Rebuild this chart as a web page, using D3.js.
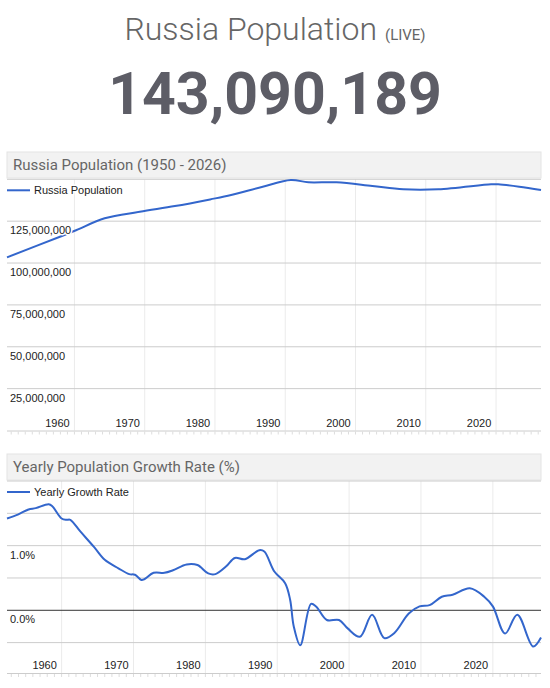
<!DOCTYPE html>
<html><head><meta charset="utf-8">
<script src="https://cdn.jsdelivr.net/npm/d3@7"></script>
<style>body{margin:0;background:#fff}svg{display:block}</style>
</head><body><div id="chart"></div>
<script>
// data
const popYears = [1950.4, 1958.3, 1960.3, 1964.3, 1969.3, 1974.3, 1979.3, 1982.3, 1986.8, 1990.8, 1993.3, 1997.3, 2002.4, 2006.8, 2011.8, 2019.3, 2020.3, 2023.3, 2026.4]
const popValues = [103.4, 116.3, 119.7, 126.7, 130.6, 134, 138, 140.6, 145.6, 149.6, 148.2, 148.2, 146, 144, 144, 147, 147, 145.6, 143.6].map(v => v * 1e6)
const popTicks = [25e6, 50e6, 75e6, 100e6, 125e6, 150e6]
const popLabelTicks = [25e6, 50e6, 75e6, 100e6, 125e6]

const rateYears = [1952.4, 1953.9, 1955.4, 1956.4, 1958.2, 1958.7, 1960, 1960.7, 1961.2, 1962.6, 1964.5, 1966, 1967.9, 1969.4, 1970.2, 1971.1, 1971.5, 1972.8, 1974.3, 1975.5, 1977.4, 1978.9, 1980.4, 1981.4, 1982.9, 1984.1, 1985.5, 1987.5, 1988.2, 1989.6, 1991.1, 1991.8, 1992.3, 1993.2, 1994.7, 1995.4, 1996.9, 1998.6, 1999.8, 2001.5, 2003.2, 2004.9, 2006.3, 2008.3, 2009.8, 2011.2, 2012.9, 2014.4, 2016.8, 2018.8, 2020, 2021.7, 2023.4, 2025.6, 2026.7]
const rateValues = [1.42, 1.48, 1.56, 1.58, 1.64, 1.61, 1.42, 1.40, 1.40, 1.22, 0.98, 0.78, 0.65, 0.56, 0.55, 0.47, 0.48, 0.58, 0.58, 0.62, 0.71, 0.70, 0.57, 0.56, 0.68, 0.81, 0.79, 0.93, 0.91, 0.60, 0.42, 0.16, -0.25, -0.54, 0.10, 0.06, -0.15, -0.15, -0.28, -0.41, -0.07, -0.43, -0.35, -0.05, 0.06, 0.08, 0.21, 0.24, 0.34, 0.21, 0.06, -0.36, -0.07, -0.56, -0.42]
const rateTicks = [-0.5, 0, 0.5, 1, 1.5, 2]
const rateLabelTicks = [0, 1]
const yearTicks = [1960, 1970, 1980, 1990, 2000, 2010, 2020]

const width = 550, height = 688
const blue = "#3366cc"

const svg = d3.select("#chart").append("svg").attr("width", width).attr("height", height)

// header
const head = svg.append("text").attr("x", 275).attr("y", 40).attr("text-anchor", "middle")
    .attr("font-family", "Roboto, sans-serif").attr("fill", "#666")
head.append("tspan").attr("font-size", 32).attr("font-weight", 300).text("Russia Population")
head.append("tspan").attr("font-size", 15).attr("dx", 8).text("(LIVE)")
svg.append("text").attr("x", 275).attr("y", 114).attr("text-anchor", "middle")
    .attr("font-family", "Roboto, sans-serif").attr("font-weight", 700).attr("font-size", 59)
    .attr("fill", "#5d5d66").text("143,090,189")

function panel(o) {
    const g = svg.append("g")
    g.append("rect").attr("x", 7).attr("y", o.top).attr("width", 534).attr("height", 26)
        .attr("fill", "#f2f2f2").attr("stroke", "#e4e4e4")
    g.append("text").attr("x", 13).attr("y", o.top + 18).attr("font-family", "Roboto, sans-serif")
        .attr("font-size", 15).attr("fill", "#666").text(o.title)

    const x = d3.scaleLinear(o.xDomain, [7, 541])
    const y = d3.scaleLinear(o.yDomain, [o.bottom, o.plotTop])

    // grid
    g.append("g").selectAll("line").data(yearTicks).join("line")
        .attr("x1", d => x(d)).attr("x2", d => x(d)).attr("y1", o.plotTop).attr("y2", o.bottom)
        .attr("stroke", "#ebebeb")
    g.append("g").selectAll("line").data(o.yTicks).join("line")
        .attr("x1", 7).attr("x2", 541).attr("y1", d => y(d)).attr("y2", d => y(d))
        .attr("stroke", d => d === o.baseline ? "#333" : "#cccccc")
    // bottom axis
    g.append("line").attr("x1", 7).attr("x2", 541).attr("y1", o.bottom + 0.5).attr("y2", o.bottom + 0.5).attr("stroke", "#ccc")
    g.append("g").selectAll("line").data(d3.range(Math.ceil(o.xDomain[0]), o.xDomain[1])).join("line")
        .attr("x1", d => x(d)).attr("x2", d => x(d)).attr("y1", o.bottom + 1).attr("y2", o.bottom + 4)
        .attr("stroke", "#ddd")
    g.append("g").selectAll("text").data(yearTicks).join("text")
        .attr("x", d => x(d) - 17).attr("y", o.bottom - 4).attr("text-anchor", "middle")
        .attr("font-family", "Arial, 'Liberation Sans', sans-serif").attr("font-size", 11).attr("fill", "#222")
        .text(d => d)

    // line
    g.append("path").datum(o.years.map((d, i) => [d, o.values[i]]))
        .attr("fill", "none").attr("stroke", blue).attr("stroke-width", 2)
        .attr("d", d3.line().x(d => x(d[0])).y(d => y(d[1])).curve(d3.curveCatmullRom))

    // y labels
    g.append("g").selectAll("text").data(o.labelTicks).join("text")
        .attr("x", 10).attr("y", d => y(d) + 13)
        .attr("font-family", "Arial, 'Liberation Sans', sans-serif").attr("font-size", 11).attr("fill", "#222")
        .attr("stroke", "#fff").attr("stroke-width", 3).attr("paint-order", "stroke")
        .text(d => o.fmt(d))

    // legend
    g.append("line").attr("x1", 7).attr("x2", 30).attr("y1", o.plotTop + 11).attr("y2", o.plotTop + 11)
        .attr("stroke", blue).attr("stroke-width", 2)
    g.append("text").attr("x", 34).attr("y", o.plotTop + 15)
        .attr("font-family", "Arial, 'Liberation Sans', sans-serif").attr("font-size", 11).attr("fill", "#222")
        .attr("stroke", "#fff").attr("stroke-width", 3).attr("paint-order", "stroke")
        .text(o.legend)
}

panel({
    top: 152, plotTop: 179.3, bottom: 430.5, title: "Russia Population (1950 - 2026)",
    xDomain: [1950.4, 2026.4], yDomain: [0, 150e6], yTicks: popTicks, labelTicks: popLabelTicks,
    years: popYears, values: popValues, legend: "Russia Population",
    fmt: d => d3.format(",")(d), baseline: null
})
panel({
    top: 454, plotTop: 481, bottom: 673, title: "Yearly Population Growth Rate (%)",
    xDomain: [1952.4, 2026.7], yDomain: [-0.97, 2.0], yTicks: rateTicks, labelTicks: rateLabelTicks,
    years: rateYears, values: rateValues, legend: "Yearly Growth Rate",
    fmt: d => d3.format(".1f")(d) + "%", baseline: 0
})
</script></body></html>
